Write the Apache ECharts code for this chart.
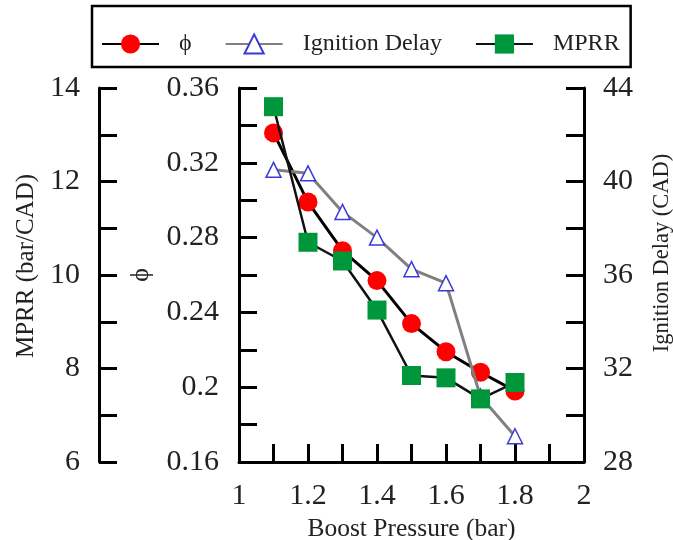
<!DOCTYPE html>
<html><head><meta charset="utf-8">
<script src="https://cdn.jsdelivr.net/npm/echarts@6/dist/echarts.min.js"></script>
<style>html,body{margin:0;padding:0;background:#fff}#c{width:673px;height:540px}</style>
</head><body><div id="c"></div>
<script>
const boost = [1.1, 1.2, 1.3, 1.4, 1.5, 1.6, 1.7, 1.8];
const phi = [0.336, 0.299, 0.273, 0.257, 0.234, 0.219, 0.208, 0.198];
const ignitionDelay = [40.5, 40.35, 38.7, 37.6, 36.25, 35.65, 30.8, 29.1];
const mprr = [13.6, 10.7, 10.3, 9.25, 7.85, 7.8, 7.35, 7.7];
const seriesNames = ['ϕ', 'Ignition Delay', 'MPRR'];

const FONT = 'Liberation Serif';
const pairs = (ys) => boost.map((x, i) => [x, ys[i]]);

const lineAxis = { show: true, lineStyle: { color: '#000', width: 3 } };
const tick = { show: true, inside: true, length: 18, lineStyle: { color: '#000', width: 3 } };
const minor = { show: true, splitNumber: 2, length: 18, lineStyle: { color: '#000', width: 3 } };
const label = { fontFamily: FONT, fontSize: 30, color: '#222', margin: 20 };
const nameStyle = { fontFamily: FONT, fontSize: 24, color: '#222' };

const chart = echarts.init(document.getElementById('c'), null, { renderer: 'canvas' });
chart.setOption({
  backgroundColor: '#fff',
  animation: false,
  textStyle: { fontFamily: FONT },
  grid: { left: 239, right: 89, top: 88, bottom: 78, containLabel: false, outerBoundsMode: 'none' },
  legend: {
    data: seriesNames,
    left: 92, top: 6,
    orient: 'horizontal',
    itemWidth: 57, itemHeight: 24, itemGap: 33,
    padding: [26, 11, 11, 9],
    borderColor: '#000', borderWidth: 2.5,
    textStyle: { fontFamily: FONT, fontSize: 24, color: '#222', padding: [0, 0, 0, 15] }
  },
  xAxis: {
    type: 'value', min: 1, max: 2, interval: 0.2,
    name: 'Boost Pressure (bar)', nameLocation: 'middle', nameGap: 54,
    nameTextStyle: Object.assign({}, nameStyle, { fontSize: 25.5 }),
    axisLine: lineAxis, axisTick: tick, minorTick: minor,
    axisLabel: Object.assign({}, label, { margin: 19 }),
    splitLine: { show: false }
  },
  yAxis: [
    {
      type: 'value', position: 'left', min: 0.16, max: 0.36, interval: 0.04,
      name: 'ϕ', nameLocation: 'middle', nameGap: 85, nameRotate: 90,
      nameTextStyle: Object.assign({}, nameStyle, { fontSize: 26 }),
      axisLine: lineAxis, axisTick: tick, minorTick: minor, axisLabel: label,
      splitLine: { show: false }
    },
    {
      type: 'value', position: 'right', min: 28, max: 44, interval: 4,
      name: 'Ignition Delay (CAD)', nameLocation: 'middle', nameGap: 67, nameRotate: 90,
      nameTextStyle: Object.assign({}, nameStyle, { fontSize: 22.5, padding: [0, 0, 0, 44] }),
      axisLine: lineAxis, axisTick: tick, minorTick: minor,
      axisLabel: Object.assign({}, label, { margin: 19 }),
      splitLine: { show: false }
    },
    {
      type: 'value', position: 'left', offset: 140, min: 6, max: 14, interval: 2,
      name: 'MPRR (bar/CAD)', nameLocation: 'middle', nameGap: 57, nameRotate: 90,
      nameTextStyle: Object.assign({}, nameStyle, { fontSize: 25, padding: [0, 0, 0, 18] }),
      axisLine: lineAxis, axisTick: tick, minorTick: minor,
      axisLabel: Object.assign({}, label, { margin: 19 }),
      splitLine: { show: false }
    }
  ],
  series: [
    {
      name: seriesNames[0], type: 'line', yAxisIndex: 0, data: pairs(phi),
      symbol: 'circle', symbolSize: 19, z: 2,
      lineStyle: { color: '#000', width: 3 },
      itemStyle: { color: '#ff0000' }
    },
    {
      name: seriesNames[1], type: 'line', yAxisIndex: 1, data: pairs(ignitionDelay),
      symbol: 'triangle', symbolSize: 15, z: 3,
      lineStyle: { color: '#808080', width: 3 },
      itemStyle: { color: '#fff', borderColor: '#3a3ad8', borderWidth: 1.5 }
    },
    {
      name: seriesNames[2], type: 'line', yAxisIndex: 2, data: pairs(mprr),
      symbol: 'rect', symbolSize: 19, z: 4,
      lineStyle: { color: '#111', width: 2.5 },
      itemStyle: { color: '#00963c' }
    }
  ]
});
</script>
</body></html>
